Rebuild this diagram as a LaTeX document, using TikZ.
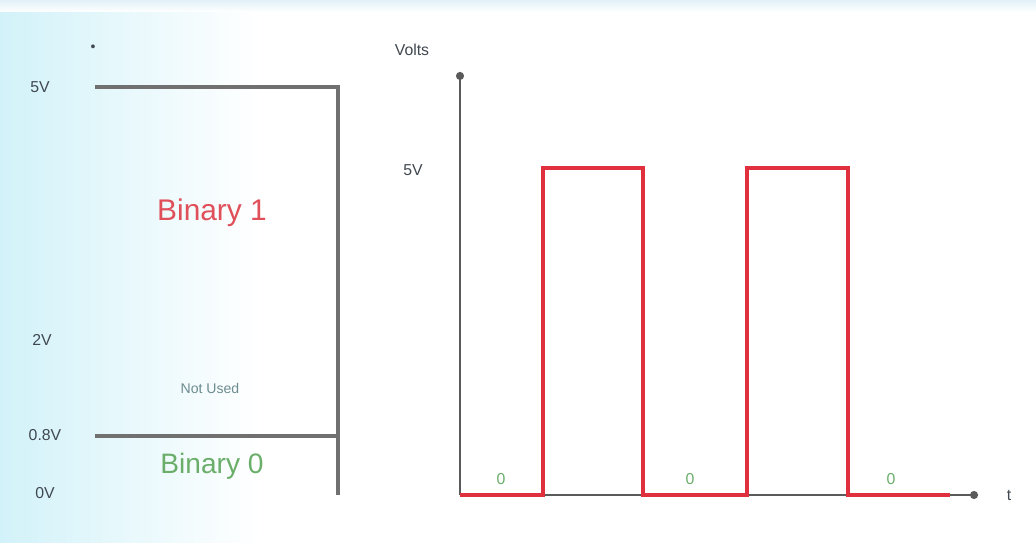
\documentclass[tikz,border=0pt]{standalone}
\usepackage{fontspec}
\setmainfont{Liberation Sans}
\usetikzlibrary{arrows.meta}
\definecolor{bgcyan}{HTML}{D2F2F9}
\definecolor{topband}{HTML}{E2F0F8}
\definecolor{linegray}{HTML}{707070}
\definecolor{sigred}{HTML}{E0303E}
\definecolor{onered}{HTML}{E0505A}
\definecolor{zerogreen}{HTML}{6AAE6A}
\definecolor{labgray}{HTML}{404850}
\definecolor{notused}{HTML}{6C8C90}
\tikzset{
  lvl/.style={draw=linegray, line width=2pt},
  axisline/.style={draw=linegray!80!black, line width=1.5pt},
  sig/.style={draw=sigred, line width=2pt, line join=miter},
  vlab/.style={text=labgray, font=\fontsize{9}{10}\selectfont, inner sep=0pt},
  zlab/.style={text=zerogreen, font=\fontsize{9}{10}\selectfont, inner sep=0pt},
  tip/.style={-{Circle[length=4.5pt]}}
}
\begin{document}
\begin{tikzpicture}[x=0.02cm,y=-0.02cm]
\useasboundingbox (0,0) rectangle (1036,543);
% background
\fill[white] (0,0) rectangle (1036,543);
\shade[left color=bgcyan, right color=white] (0,0) rectangle (260,543);
\shade[top color=topband, bottom color=white] (0,0) rectangle (1036,12);
% left level chart
\coordinate (l5a) at (95,87);
\coordinate (l5b) at (338,87);
\coordinate (l08a) at (95,436);
\coordinate (l08b) at (338,436);
\coordinate (lbot) at (338,495);
\draw[lvl] (l5a) -- (l5b) -- (lbot);
\draw[lvl] (l08a) -- (l08b);
\node[vlab] (v5) at (40,87) {5V};
\node[vlab] (v2) at (42,340) {2V};
\node[vlab] (v08) at (45,435) {0.8V};
\node[vlab] (v0) at (45,493) {0V};
\node[vlab, font=\fontsize{8}{8}\selectfont] (vtop) at (93,48) {•};
\node[text=onered, font=\fontsize{17}{20}\selectfont, inner sep=0pt] (b1) at (212,213) {Binary 1};
\node[text=notused, font=\fontsize{8}{9}\selectfont, inner sep=0pt] (nu) at (210,388) {Not Used};
\node[text=zerogreen, font=\fontsize{16}{19}\selectfont, inner sep=0pt] (b0) at (212,466) {Binary 0};
% right: axes
\coordinate (o) at (460,495);
\coordinate (ytop) at (460,72);
\coordinate (xend) at (978,495);
\draw[axisline, tip] (o) -- (ytop);
\draw[axisline, tip] (o) -- (xend);
\node[vlab] (volts) at (412,50) {Volts};
\node[vlab] (v5r) at (413,170) {5V};
\node[vlab] (t) at (1009,495) {t};
% signal
\coordinate (s0) at (460,495);
\coordinate (s1) at (543,495);
\coordinate (s2) at (543,168);
\coordinate (s3) at (643,168);
\coordinate (s4) at (643,495);
\coordinate (s5) at (747,495);
\coordinate (s6) at (747,168);
\coordinate (s7) at (848,168);
\coordinate (s8) at (848,495);
\coordinate (s9) at (950,495);
\draw[sig] (s0) -- (s1) -- (s2) -- (s3) -- (s4) -- (s5) -- (s6) -- (s7) -- (s8) -- (s9);
\node[zlab] (z1) at (501,479) {0};
\node[zlab] (z2) at (690,479) {0};
\node[zlab] (z3) at (891,479) {0};
\end{tikzpicture}
\end{document}
